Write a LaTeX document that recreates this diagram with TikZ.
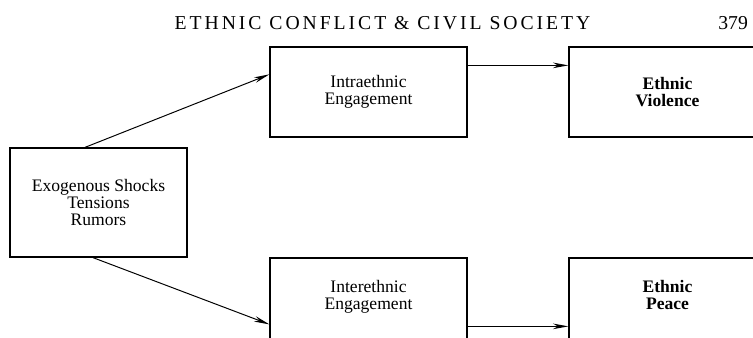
\documentclass[tikz,border=0pt]{standalone}
\usepackage{fontspec}
\setmainfont{Liberation Serif}
\usetikzlibrary{arrows.meta}

\tikzstyle{cause} = [rectangle, minimum width=4.425cm, minimum height=2.725cm,
text centered, align=center, draw=black, line width=0.9pt]
\tikzstyle{engage} = [rectangle, minimum width=4.925cm, minimum height=2.25cm,
text centered, align=center, draw=black, line width=0.9pt]
\tikzstyle{outcome} = [engage, font=\fontsize{12.5}{12.2}\selectfont\bfseries]
\tikzstyle{arrow} = [line width=0.7pt, -{Stealth[length=11pt, width=4pt]}]

\begin{document}
\begin{tikzpicture}[node distance=7.475cm, font=\fontsize{12.5}{12.2}\selectfont]

  \useasboundingbox (0,0) rectangle (18.825,-8.425);
  \clip (0,0) rectangle (18.825,-8.425);

  % running head
  \node (head) at (9.5625,-0.57) {\fontsize{14}{15}\selectfont\addfontfeatures{LetterSpace=15}ETHNIC CONFLICT \& CIVIL SOCIETY};
  \node (page) [anchor=east] at (18.82,-0.57) {\fontsize{14}{15}\selectfont 379};

  \node (exo) [cause] at (2.4625,-5.0625) {Exogenous Shocks \\ Tensions \\ Rumors};
  \node (intra) [engage, right of=exo, xshift=-0.725cm, yshift=2.7625cm] {Intraethnic \\ Engagement};
  \node (inter) [engage, below of=intra, yshift=2.2cm, text depth=0.4cm] {Interethnic \\ Engagement};

  \node (viol) [outcome, right of=intra] {Ethnic \\ Violence};
  \node (peace) [outcome, right of=inter, text depth=0.4cm] {Ethnic \\ Peace};

  \draw [arrow] ([xshift=-0.3375cm]exo.north) -- ([yshift=-0.7cm]intra.north west);
  \draw [arrow] ([xshift=-0.1375cm]exo.south) -- ([yshift=-1.675cm]inter.north west);

  \draw [arrow] ([yshift=-0.475cm]intra.north east) -- ([yshift=-0.475cm]viol.north west);
  \draw [arrow] ([yshift=-1.725cm]inter.north east) -- ([yshift=-1.725cm]peace.north west);

\end{tikzpicture}
\end{document}
